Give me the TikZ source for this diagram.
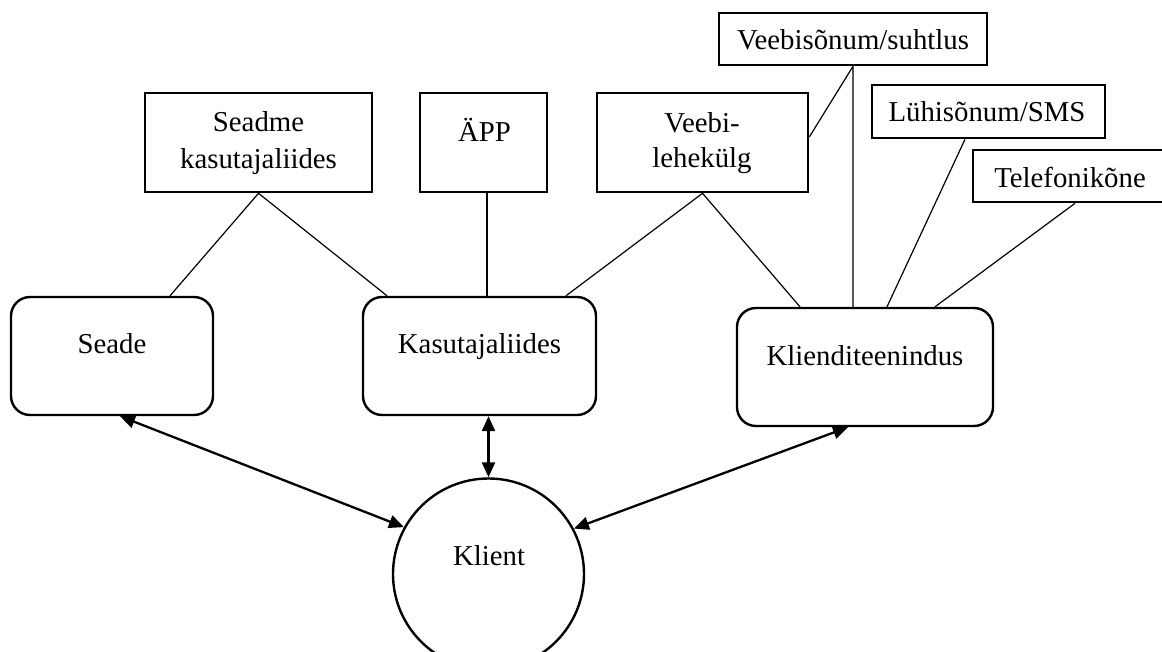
\documentclass[tikz,border=0pt]{standalone}
\usepackage{fontspec}
\setmainfont{Liberation Serif}
\usetikzlibrary{arrows.meta}
\begin{document}
\begin{tikzpicture}[x=1pt,y=-1pt,
  box/.style={draw, line width=2.6pt, inner sep=0pt},
  rbox/.style={draw, line width=2.4pt, inner sep=0pt, rounded corners=19pt},
  lbl/.style={anchor=base, inner sep=0pt, font=\fontsize{28.8}{37}\selectfont},
  link/.style={line width=1.2pt},
  arr/.style={line width=2.3pt, {Triangle[length=15pt,width=13pt]}-{Triangle[length=15pt,width=13pt]}},
]
\useasboundingbox (0,0) rectangle (1162,652);

% top boxes
\node[box, minimum width=227pt, minimum height=99pt] (sk) at (258.5,142.5) {};
\node[lbl] (sk1) at (258.5,132) {Seadme};
\node[lbl] (sk2) at (258.5,169) {kasutajaliides};

\node[box, minimum width=127pt, minimum height=99pt] (app) at (483.5,142.5) {};
\node[lbl] (app1) at (484.5,141.7) {ÄPP};

\node[box, minimum width=211pt, minimum height=99pt] (veebi) at (702.5,142.5) {};
\node[lbl] (veebi1) at (702,133) {Veebi-};
\node[lbl] (veebi2) at (702,168) {lehekülg};

\node[box, minimum width=268pt, minimum height=52pt] (vs) at (853,39) {};
\node[lbl] (vs1) at (853,50) {Veebisõnum/suhtlus};

\node[box, minimum width=233pt, minimum height=53pt] (ls) at (988.5,111.5) {};
\node[lbl] (ls1) at (987,122) {Lühisõnum/SMS};

\node[box, minimum width=196pt, minimum height=52pt] (tk) at (1071,176) {};
\node[lbl] (tk1) at (1070,188) {Telefonikõne};

% middle boxes
\node[rbox, minimum width=202pt, minimum height=118pt] (seade) at (112,356) {};
\node[lbl] (seade1) at (112,353) {Seade};

\node[rbox, minimum width=233pt, minimum height=118pt] (kasu) at (479.5,356) {};
\node[lbl] (kasu1) at (479.5,353) {Kasutajaliides};

\node[rbox, minimum width=256pt, minimum height=118pt] (klt) at (865,367) {};
\node[lbl] (klt1) at (865,365) {Klienditeenindus};

% client
\node[circle, draw, line width=2.4pt, minimum size=191pt, inner sep=0pt] (klient) at (488.5,574) {};
\node[lbl] (klient1) at (489,565) {Klient};

% thin links
\draw[link] ([xshift=58pt]seade.north) -- (sk.south) -- ([xshift=-92.5pt]kasu.north);
\draw[link] ([xshift=3.5pt]app.south) -- ([xshift=7.5pt]kasu.north);
\draw[link] ([xshift=86.5pt]kasu.north) -- (veebi.south) -- ([xshift=-65pt]klt.north);
\draw[link] ([yshift=5.5pt]veebi.east) -- (vs.south) -- ([xshift=-12pt]klt.north);
\draw[link] ([xshift=-23.5pt]ls.south) -- ([xshift=22pt]klt.north);
\draw[link] ([xshift=4pt]tk.south) -- ([xshift=70pt]klt.north);

% arrows
\draw[arr] ([xshift=8pt]seade.south) -- (klient.151.7);
\draw[arr] (kasu.south -| klient.north) -- (klient.north);
\draw[arr] (klient.28.6) -- ([xshift=-17pt]klt.south);
\end{tikzpicture}
\end{document}
